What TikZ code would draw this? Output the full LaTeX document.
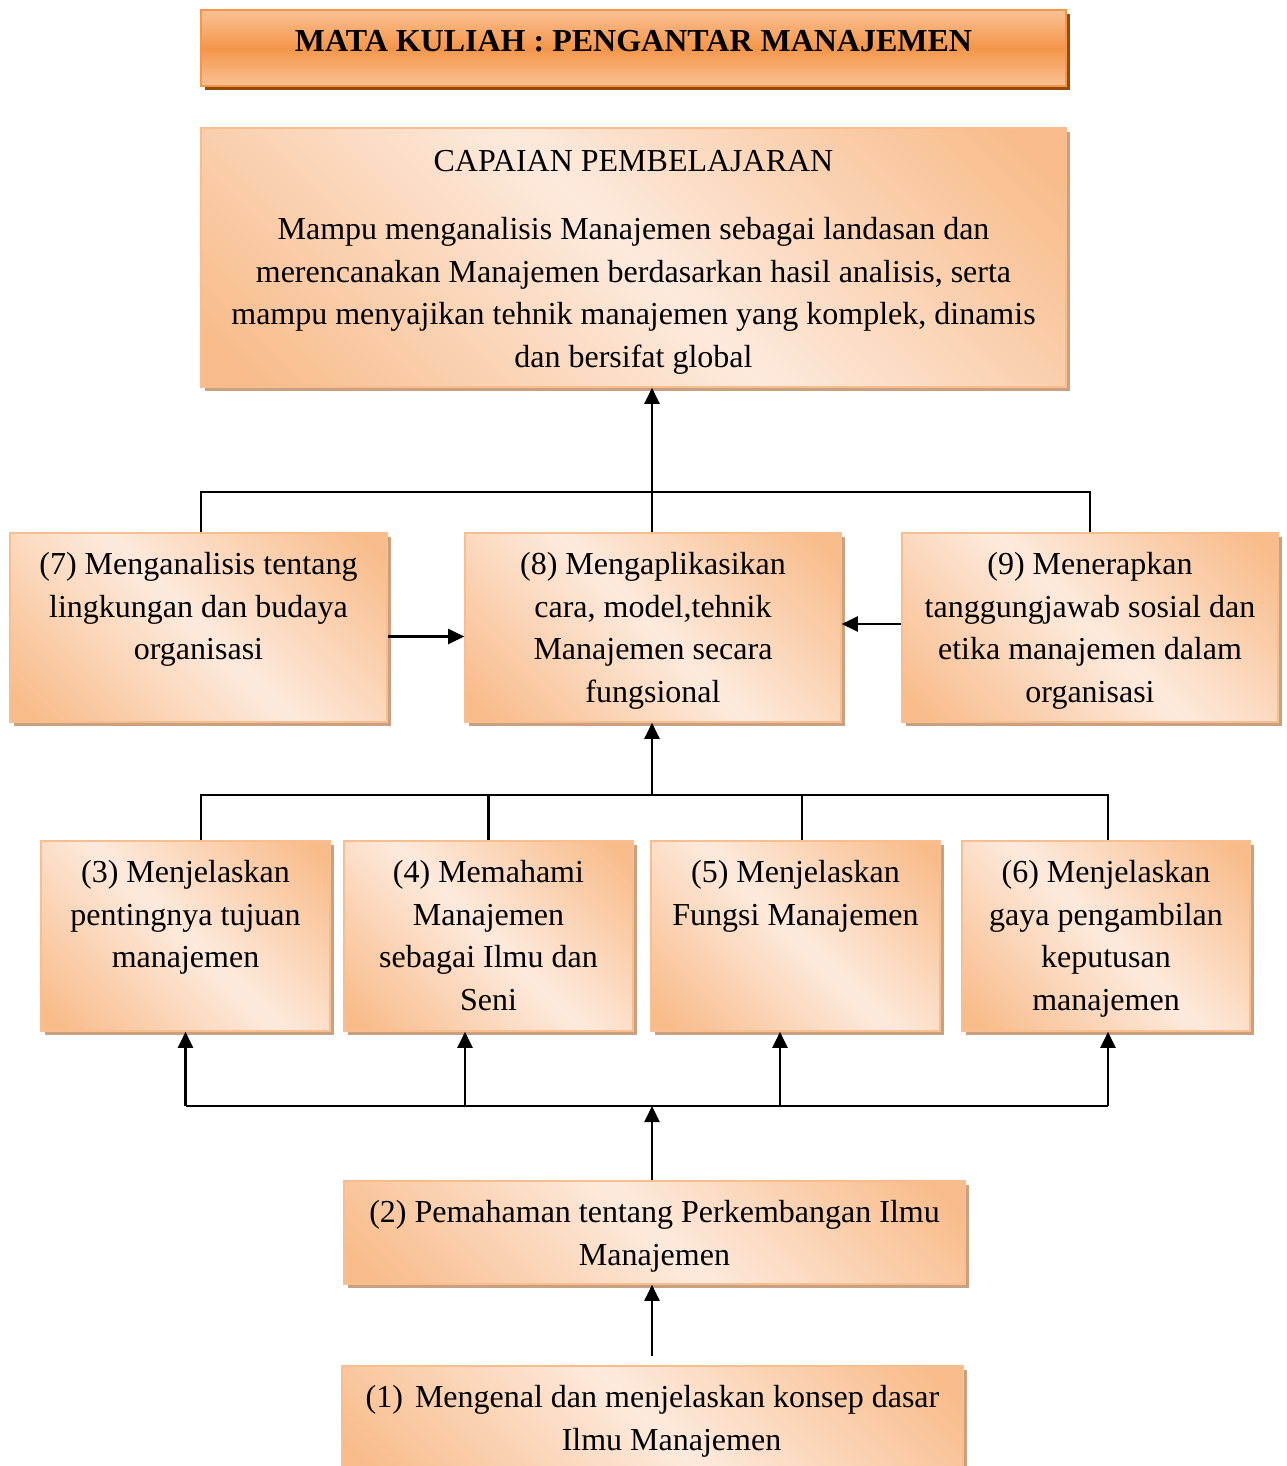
\documentclass[tikz,border=0pt]{standalone}
\usepackage{fontspec}
\setmainfont{Liberation Serif}
\usetikzlibrary{shadows,arrows.meta}

\definecolor{persikgelap}{HTML}{F8BC8B}
\definecolor{persikterang}{HTML}{FDEADD}
\definecolor{garispersik}{HTML}{F9BE8F}
\definecolor{bayangpersik}{HTML}{C9A080}
\definecolor{judulterang}{HTML}{FAC194}
\definecolor{judulgelap}{HTML}{F4964A}
\definecolor{garisjudul}{HTML}{F79646}
\definecolor{bayangjudul}{HTML}{984807}

\pgfdeclarehorizontalshading{persik}{100bp}{color(0bp)=(persikgelap); color(18bp)=(persikgelap); color(50bp)=(persikterang); color(82bp)=(persikgelap); color(100bp)=(persikgelap)}

% isi kotak: lebar, tinggi, jarak atas, teks
\newcommand{\isi}[4]{\parbox[c][#2][t]{#1}{\vspace*{#3}\centering\strut #4}}

\begin{document}
\begin{tikzpicture}[x=1pt, y=-1pt,
    kotak/.style={draw=garispersik, line width=1.6pt, inner sep=0pt, shading=persik, shading angle=45,
      drop shadow={shadow xshift=4pt, shadow yshift=-4pt, fill=bayangpersik, opacity=1}},
    judul/.style={draw=garisjudul, line width=1.6pt, inner sep=0pt, top color=judulterang, bottom color=judulterang, middle color=judulgelap,
      drop shadow={shadow xshift=4pt, shadow yshift=-4pt, fill=bayangjudul, opacity=1}},
    garis/.style={line width=2.2pt},
    panah/.style={line width=2.2pt, -{Triangle[length=16pt, width=15pt]}}]
  \fontsize{32}{42.5}\selectfont
  \useasboundingbox (0,0) rectangle (1286,1466);

  \node[judul] (judul) at (633.5,48) {\isi{865pt}{76pt}{12pt}{\textbf{MATA KULIAH : PENGANTAR MANAJEMEN}}};
  \node[kotak] (capaian) at (633.5,257.5) {\isi{865pt}{259pt}{13.5pt}{CAPAIAN PEMBELAJARAN\\[26pt]
    Mampu menganalisis Manajemen sebagai landasan dan\\ merencanakan Manajemen berdasarkan hasil analisis, serta\\
    mampu menyajikan tehnik manajemen yang komplek, dinamis\\ dan bersifat global}};

  \node[kotak] (n7) at (198.5,627.5) {\isi{377pt}{189pt}{12pt}{(7) Menganalisis tentang\\ lingkungan dan budaya\\ organisasi}};
  \node[kotak] (n8) at (653,627.5) {\isi{376pt}{189pt}{12pt}{(8) Mengaplikasikan\\ cara, model,tehnik\\ Manajemen secara\\ fungsional}};
  \node[kotak] (n9) at (1090,627.5) {\isi{376pt}{189pt}{12pt}{(9) Menerapkan\\ tanggungjawab sosial dan\\ etika manajemen dalam\\ organisasi}};

  \node[kotak] (n3) at (185.5,936) {\isi{289pt}{190pt}{12pt}{(3) Menjelaskan\\ pentingnya tujuan\\ manajemen}};
  \node[kotak] (n4) at (488.5,936) {\isi{289pt}{190pt}{12pt}{(4) Memahami\\ Manajemen\\ sebagai Ilmu dan\\ Seni}};
  \node[kotak] (n5) at (795.5,936) {\isi{289pt}{190pt}{12pt}{(5) Menjelaskan\\ Fungsi Manajemen}};
  \node[kotak] (n6) at (1106,936) {\isi{288pt}{190pt}{12pt}{(6) Menjelaskan\\ gaya pengambilan\\ keputusan\\ manajemen}};

  \node[kotak] (n2) at (654.5,1232.5) {\isi{621pt}{103pt}{12pt}{(2) Pemahaman tentang Perkembangan Ilmu\\ Manajemen}};
  \node[kotak] (n1) at (652.5,1423) {\isi{621pt}{114pt}{12pt}{(1)\hspace{4pt} Mengenal dan menjelaskan konsep dasar\\ \hspace*{38pt}Ilmu Manajemen}};

  \coordinate (atas) at (652,492);
  \coordinate (tengah) at (652,795);
  \coordinate (bawah) at (652,1106);

  % ke capaian pembelajaran
  \draw[garis] ([xshift=2.5pt]n7.north) |- (atas) -| (n9.north);
  \draw[panah] (n8.north -| atas) -- (capaian.south -| atas);
  \draw[panah] ([yshift=-9pt]n7.east) -- ([yshift=-9pt]n8.west);
  \draw[panah] ([yshift=3.5pt]n9.west) -- ([yshift=3.5pt]n8.east);

  % ke (8)
  \draw[garis] ([xshift=15.5pt]n3.north) |- (tengah) -| ([xshift=2pt]n6.north);
  \draw[garis] (n4.north) -- (n4.north |- tengah);
  \draw[garis] ([xshift=6.5pt]n5.north) -- ([xshift=6.5pt]n5.north |- tengah);
  \draw[panah] (tengah) -- (n8.south -| tengah);

  % dari (2)
  \draw[garis] (n3.south |- bawah) -- ([xshift=2pt]n6.south |- bawah);
  \draw[panah] (n3.south |- bawah) -- (n3.south);
  \draw[panah] ([xshift=-23.5pt]n4.south |- bawah) -- ([xshift=-23.5pt]n4.south);
  \draw[panah] ([xshift=-15.5pt]n5.south |- bawah) -- ([xshift=-15.5pt]n5.south);
  \draw[panah] ([xshift=2pt]n6.south |- bawah) -- ([xshift=2pt]n6.south);
  \draw[panah] (n2.north -| bawah) -- (bawah);
  \draw[panah] ([yshift=9pt]n1.north -| bawah) -- (n2.south -| bawah);
\end{tikzpicture}
\end{document}
